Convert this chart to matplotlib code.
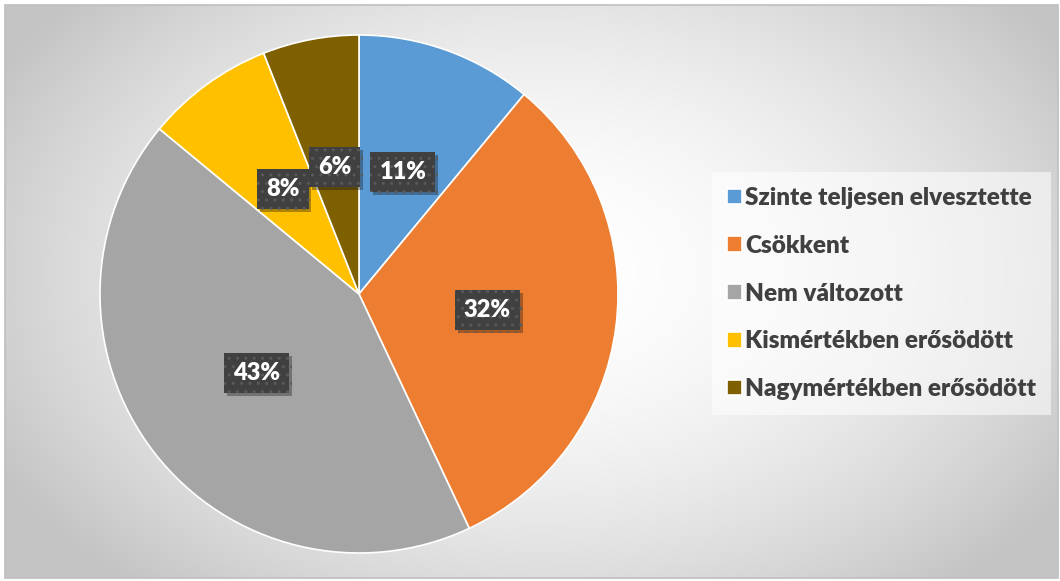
import numpy as np
import matplotlib
matplotlib.use("Agg")
import matplotlib.pyplot as plt
import matplotlib.patheffects as pe
from matplotlib.patches import Rectangle

# survey answers (percent)
categories = ["Szinte teljesen elvesztette", "Csökkent", "Nem változott",
              "Kismértékben erősödött", "Nagymértékben erősödött"]
shares = [11, 32, 43, 8, 6]
colors = ["#5B9BD5", "#ED7D31", "#A5A5A5", "#FFC000", "#7F6000"]

plt.rcParams["font.family"] = ["Lato", "DejaVu Sans"]
plt.rcParams["font.weight"] = "heavy"

W, H = 1060, 581
fig = plt.figure(figsize=(W / 100, H / 100), dpi=100)
fig.patch.set_facecolor("white")

# radial gradient background of the chart area
bg = fig.add_axes([0, 0, 1, 1])
bg.set_xlim(0, W)
bg.set_ylim(H, 0)
bg.axis("off")
yy, xx = np.mgrid[0:H, 0:W]
cx, cy = 540, 270
d = np.sqrt(((xx - cx) / 620.0) ** 2 + ((yy - cy) / 420.0) ** 2)
d = np.clip(d, 0, 1)
shade = 1.0 - 0.23 * d ** 1.8
img = np.dstack([shade, shade, shade])
bg.imshow(img, extent=(5, W - 2, H - 3, 5), zorder=0, interpolation="bilinear")
bg.add_patch(Rectangle((5, 5), W - 7, H - 8, fill=False, edgecolor="#bfbfbf", lw=1.2, zorder=1))

# pie
R = 259
pcx, pcy = 359, 294
ax = fig.add_axes([(pcx - R) / W, (H - pcy - R) / H, 2 * R / W, 2 * R / H])
wedges, texts, autotexts = ax.pie(
    shares, colors=colors, startangle=90, counterclock=False,
    autopct="%.0f%%", pctdistance=0.5,
    wedgeprops=dict(edgecolor="white", linewidth=1.2),
)
ax.set_xlim(-1, 1)
ax.set_ylim(-1, 1)
ax.set_aspect("equal")

for t in autotexts:
    t.set_color("white")
    t.set_fontsize(17)
    t.set_fontweight("heavy")
    t.set_bbox(dict(boxstyle="square,pad=0.38", facecolor="#404040",
                    edgecolor="#595959", linewidth=0, hatch=".."))
    t.get_bbox_patch().set_path_effects(
        [pe.SimplePatchShadow(offset=(2, -2), alpha=0.35), pe.Normal()])

leg = fig.legend(
    wedges, categories, loc="upper left",
    bbox_to_anchor=(712 / W, 1 - 172 / H), borderaxespad=0,
    prop=dict(size=17.5, weight="heavy"),
    handlelength=0.62, handleheight=0.62, handletextpad=0.12,
    labelspacing=1.06, borderpad=0.62, frameon=True, fancybox=False,
)
leg.get_frame().set_facecolor("white")
leg.get_frame().set_alpha(0.55)
leg.get_frame().set_linewidth(0)
for txt in leg.get_texts():
    txt.set_color("#404040")

fig.savefig("out.png", dpi=100)
